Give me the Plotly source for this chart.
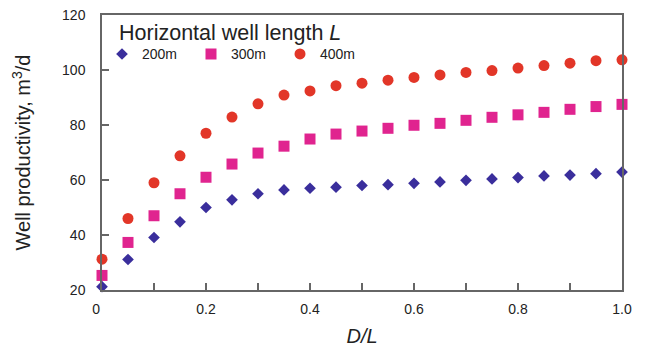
import plotly.graph_objects as go

x_vals = [0.0, 0.05, 0.1, 0.15, 0.2, 0.25, 0.3, 0.35, 0.4, 0.45, 0.5,
          0.55, 0.6, 0.65, 0.7, 0.75, 0.8, 0.85, 0.9, 0.95, 1.0]
y_200 = [21.2, 31.1, 39.1, 44.8, 50.0, 52.8, 55.0, 56.4, 57.0, 57.4, 58.0,
         58.3, 58.8, 59.3, 59.9, 60.4, 60.9, 61.5, 61.8, 62.3, 62.9]
y_300 = [25.3, 37.3, 47.0, 55.0, 61.0, 65.8, 69.8, 72.3, 74.9, 76.7, 77.8,
         78.8, 79.9, 80.6, 81.7, 82.8, 83.7, 84.6, 85.7, 86.7, 87.5]
y_400 = [31.2, 46.0, 59.0, 68.8, 77.0, 82.9, 87.7, 90.9, 92.4, 94.3, 95.2,
         96.3, 97.3, 98.2, 99.1, 99.8, 100.7, 101.6, 102.5, 103.4, 103.7]
series_names = ["200m", "300m", "400m"]
legend_title = "Horizontal well length <i>L</i>"
x_tickvals = [0, 0.2, 0.4, 0.6, 0.8, 1.0]
x_ticktext = ["0\u00a0\u00a0\u00a0", "0.2", "0.4", "0.6", "0.8", "1.0"]
y_tickvals = [20, 40, 60, 80, 100, 120]

colors = ["#3a2e9c", "#e0248f", "#e23628"]
symbols = ["diamond", "square", "circle"]
sizes = [9, 11, 11]

fig = go.Figure()
for name, ys, c, s, sz in zip(series_names, [y_200, y_300, y_400], colors, symbols, sizes):
    fig.add_trace(go.Scatter(
        x=x_vals, y=ys, mode="markers", name=name, cliponaxis=False,
        marker=dict(symbol=s, color=c, size=sz, line=dict(width=0)),
    ))

font_family = "Liberation Sans, Arial, sans-serif"
fig.update_layout(
    width=646, height=347,
    margin=dict(l=102, r=24, t=15, b=57),
    paper_bgcolor="white", plot_bgcolor="white",
    font=dict(family=font_family, color="#222", size=14),
    showlegend=True,
    legend=dict(
        orientation="h", x=0.0, y=0.915, xanchor="left", yanchor="top",
        bgcolor="rgba(0,0,0,0)",
        font=dict(size=14, color="#222"),
        itemwidth=30, entrywidth=44, entrywidthmode="pixels",
        tracegroupgap=0,
    ),
    annotations=[dict(
        text=legend_title, xref="paper", yref="paper",
        x=0.028, y=0.934, xanchor="left", yanchor="middle", showarrow=False,
        font=dict(size=21.5, color="#222"),
    )],
    xaxis=dict(
        range=[0, 1], tickvals=x_tickvals, ticktext=x_ticktext,
        ticks="inside", ticklen=7, tickwidth=1.5, tickcolor="#666",
        minor=dict(tickvals=[0.1, 0.3, 0.5, 0.7, 0.9], ticks="inside",
                   ticklen=7, tickwidth=1.5, tickcolor="#666"),
        showline=True, linecolor="#666", linewidth=1.5, mirror=True,
        showgrid=False, zeroline=False, automargin=False,
        ticklabelstandoff=5,
        tickfont=dict(size=14, color="#222"),
        title=dict(text="<i>D/L</i>", font=dict(size=20, color="#222"), standoff=25),
    ),
    yaxis=dict(
        range=[20, 120], tickvals=y_tickvals,
        ticks="inside", ticklen=7, tickwidth=1.5, tickcolor="#666",
        showline=True, linecolor="#666", linewidth=1.5, mirror=True,
        showgrid=False, zeroline=False, automargin=False,
        ticklabelstandoff=12,
        tickfont=dict(size=14, color="#222"),
        title=dict(text="Well productivity, m<sup>3</sup>/d", font=dict(size=20, color="#222"), standoff=26),
    ),
)

fig.write_html(
    "out.html",
    config={"displayModeBar": False},
    post_script="document.body.style.margin='0';document.body.style.padding='0';document.body.style.overflow='hidden';",
)
